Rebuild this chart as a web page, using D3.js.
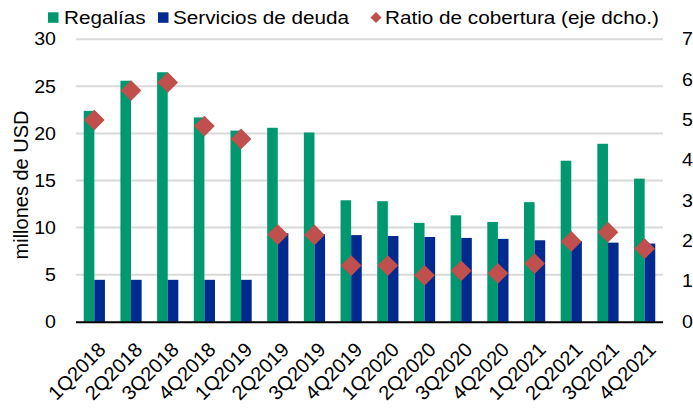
<!DOCTYPE html>
<html><head><meta charset="utf-8">
<script src="https://cdn.jsdelivr.net/npm/d3@7"></script>
<style>html,body{margin:0;padding:0;background:#fff;} text{font-family:"Liberation Sans",Arial,sans-serif;fill:#000;}</style>
</head><body>
<svg id="c" width="693" height="412"></svg>
<script>
const categories = ["1Q2018","2Q2018","3Q2018","4Q2018","1Q2019","2Q2019","3Q2019","4Q2019","1Q2020","2Q2020","3Q2020","4Q2020","1Q2021","2Q2021","3Q2021","4Q2021"];
const regalias = [22.4,25.6,26.5,21.7,20.3,20.6,20.1,12.9,12.8,10.5,11.3,10.6,12.7,17.1,18.9,15.2];
const servicios = [4.45,4.45,4.45,4.45,4.45,9.4,9.3,9.2,9.1,9.0,8.9,8.8,8.65,8.55,8.4,8.3];
const ratio = [5.0,5.73,5.93,4.85,4.53,2.16,2.15,1.39,1.39,1.15,1.26,1.2,1.44,1.99,2.22,1.81];
const leftTicks = [0,5,10,15,20,25,30];
const rightTicks = [0,1,2,3,4,5,6,7];
const seriesNames = ["Regalías","Servicios de deuda","Ratio de cobertura (eje dcho.)"];
const colors = ["#00986f","#002a8f","#c0504d"];

const svg = d3.select("#c");
const L = 76, R = 663, T = 39.3, B = 321.7;
const x0 = d3.scaleBand().domain(categories).range([L, R]).padding(0);
const x1 = d3.scaleBand().domain([0,1]).range([0, x0.bandwidth()]).paddingInner(0).paddingOuter(0.73);
const yL = d3.scaleLinear().domain([0,30]).range([B, T]);
const yR = d3.scaleLinear().domain([0,7]).range([B, T]);
const SX = 1.12;

// gridlines
svg.append("g").selectAll("line").data(leftTicks.filter(d=>d>0)).join("line")
  .attr("x1", L).attr("x2", R).attr("y1", d=>yL(d)).attr("y2", d=>yL(d))
  .attr("stroke", "#d9d9d9").attr("stroke-width", 2);

// bars
const rows = categories.map((c,i)=>({c, v:[regalias[i], servicios[i]]}));
const g = svg.append("g").selectAll("g").data(rows).join("g")
  .attr("transform", d=>`translate(${x0(d.c)},0)`);
g.selectAll("rect").data(d=>d.v.map((v,k)=>({v,k}))).join("rect")
  .attr("x", d=>x1(d.k)).attr("width", x1.bandwidth())
  .attr("y", d=>yL(d.v)).attr("height", d=>yL(0)-yL(d.v))
  .attr("fill", d=>colors[d.k]);

// baseline
svg.append("line").attr("x1", L).attr("x2", R).attr("y1", B+0.5).attr("y2", B+0.5)
  .attr("stroke", "#000").attr("stroke-width", 2);

// diamonds
const diamond = d3.symbol(d3.symbolSquare, 214);
svg.append("g").selectAll("path").data(categories).join("path")
  .attr("d", diamond())
  .attr("transform", (c,i)=>`translate(${x0(c)+x0.bandwidth()/2},${yR(ratio[i])}) rotate(45)`)
  .attr("fill", colors[2]);

// left axis labels
svg.append("g").selectAll("text").data(leftTicks).join("text")
  .attr("transform", d=>`translate(56,${yL(d)}) scale(${SX},1)`)
  .attr("text-anchor","end").attr("dy","0.35em").attr("font-size", 17.5)
  .text(d=>d);

// right axis labels
svg.append("g").selectAll("text").data(rightTicks).join("text")
  .attr("transform", d=>`translate(682,${yR(d)}) scale(${SX},1)`)
  .attr("text-anchor","start").attr("dy","0.35em").attr("font-size", 17.5)
  .text(d=>d);

// x labels
svg.append("g").selectAll("text").data(categories).join("text")
  .attr("transform", c=>`translate(${x0(c)+x0.bandwidth()/2+12.5},351) rotate(-45)`)
  .attr("text-anchor","end").attr("font-size", 20)
  .text(c=>c);

// y title
svg.append("text").attr("transform","translate(27.5,185) rotate(-90)")
  .attr("text-anchor","middle").attr("font-size", 20).text("millones de USD");

// legend
const legX = [48, 158, 376];
const legTextX = [64, 173, 385];
const legY = 17.5;
seriesNames.forEach((s,k)=>{
  if (k < 2) {
    svg.append("rect").attr("x", legX[k]).attr("y", legY-5.2).attr("width", 10.5).attr("height", 10.5).attr("fill", colors[k]);
  } else {
    svg.append("path").attr("d", d3.symbol(d3.symbolSquare, 60)())
      .attr("transform", `translate(${legX[k]},${legY}) rotate(45)`).attr("fill", colors[k]);
  }
  svg.append("text").attr("transform", `translate(${legTextX[k]},${legY+6.3}) scale(${SX},1)`)
    .attr("font-size", 18.5).text(s);
});
</script>
</body></html>
